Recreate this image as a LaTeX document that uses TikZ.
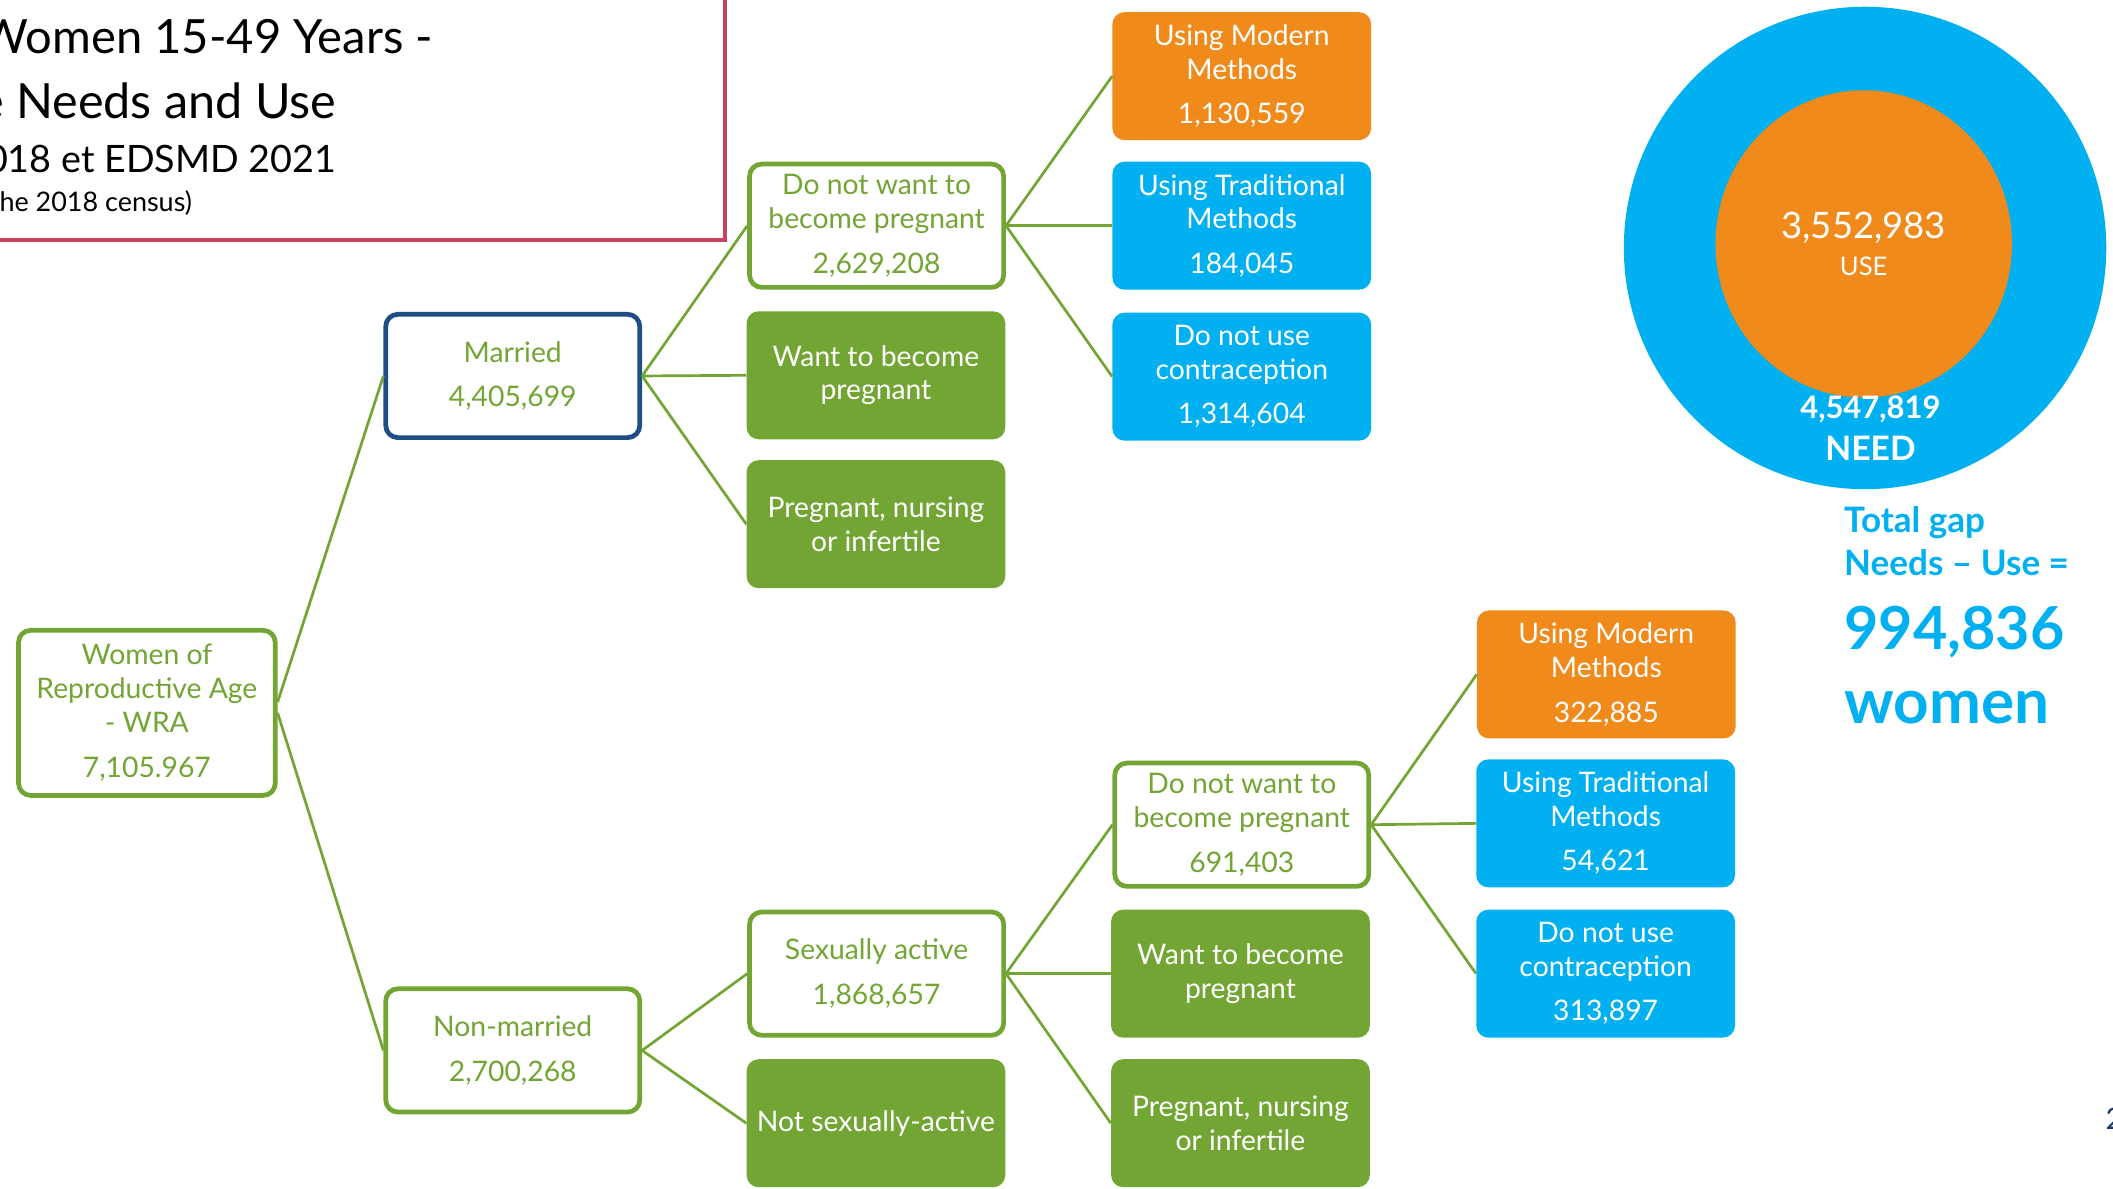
\documentclass[tikz,border=0pt]{standalone}
\usepackage{fontspec}
\setmainfont{Lato}
\usepackage{tikz}
\usetikzlibrary{positioning}

\definecolor{leaf}{HTML}{73A535}
\definecolor{sky}{HTML}{00B0F0}
\definecolor{amber}{HTML}{EF8A1B}
\definecolor{navy}{HTML}{1F4E85}
\definecolor{rosered}{HTML}{C9415C}
\definecolor{inkblue}{HTML}{1F3864}

\tikzset{
	box/.style={rounded corners=9pt, minimum width=192pt, minimum height=95pt, inner sep=0pt, align=center, font=\fontsize{21}{25}\selectfont},
	wbox/.style={box, draw=leaf, line width=3.5pt, fill=white, text=leaf, minimum width=188.5pt, minimum height=91.5pt},
	gbox/.style={box, fill=leaf, text=white},
	obox/.style={box, fill=amber, text=white},
	cbox/.style={box, fill=sky, text=white},
	link/.style={draw=leaf, line width=2pt},
}

\begin{document}
\begin{tikzpicture}[x=1pt, y=-1pt]
		\useasboundingbox (0,0) rectangle (1568,882);
		\clip (0,0) rectangle (1568,882);
		\fill[white] (0,0) rectangle (1568,882);

		% title
		\draw[rosered, line width=3pt] (-10,-10) rectangle (538,178);
		\node[anchor=base east, font=\fontsize{35}{35}\selectfont] (title1) at (325,40) {Women 15-49 Years -};
		\node[anchor=base east, font=\fontsize{36}{36}\selectfont] (title2) at (253,88) {e Needs and Use};
		\node[anchor=base east, font=\fontsize{28}{28}\selectfont] (title3) at (253,128) {018 et EDSMD 2021};
		\node[anchor=base east, font=\fontsize{20}{20}\selectfont] (title4) at (146,157) {he 2018 census)};

		% first level
		\node[wbox, minimum width=190.5pt, minimum height=122.5pt] (wra) at (109,529) {Women of\\Reproductive Age\\- WRA\\[9pt]7,105.967};
		\node[wbox, draw=navy] (married) at (380.5,279) {Married\\[8pt]4,405,699};
		\node[wbox] (nonmar) at (380.5,779.5) {Non-married\\[8pt]2,700,268};

		% married branch
		\node[wbox] (nowantA) at (650.5,167.5) {Do not want to\\become pregnant\\[8pt]2,629,208};
		\node[gbox] (wantA) at (650,278.5) {Want to become\\pregnant};
		\node[gbox] (pregA) at (650,389) {Pregnant, nursing\\or infertile};
		\node[obox] (modA) at (921.5,56.5) {Using Modern\\Methods\\[8pt]1,130,559};
		\node[cbox] (tradA) at (921.5,167.5) {Using Traditional\\Methods\\[8pt]184,045};
		\node[cbox] (nouseA) at (921.5,279.5) {Do not use\\contraception\\[8pt]1,314,604};

		% non-married branch
		\node[wbox] (active) at (650.5,722.5) {Sexually active\\[8pt]1,868,657};
		\node[gbox] (inactive) at (650,833.5) {Not sexually-active};
		\node[wbox] (nowantB) at (921.5,612) {Do not want to\\become pregnant\\[8pt]691,403};
		\node[gbox] (wantB) at (920.5,722.5) {Want to become\\pregnant};
		\node[gbox] (pregB) at (920.5,833.5) {Pregnant, nursing\\or infertile};
		\node[obox] (modB) at (1192,500.5) {Using Modern\\Methods\\[8pt]322,885};
		\node[cbox] (tradB) at (1191.5,611) {Using Traditional\\Methods\\[8pt]54,621};
		\node[cbox] (nouseB) at (1191.5,722.5) {Do not use\\contraception\\[8pt]313,897};

		% links
		\draw[link] ([yshift=8pt]wra.east) -- (married.west);
		\draw[link] (wra.east) -- (nonmar.west);
		\foreach \t in {nowantA, wantA, pregA} \draw[link] (married.east) -- (\t.west);
		\foreach \t in {modA, tradA, nouseA} \draw[link] (nowantA.east) -- (\t.west);
		\foreach \t in {active, inactive} \draw[link] (nonmar.east) -- (\t.west);
		\foreach \t in {nowantB, wantB, pregB} \draw[link] (active.east) -- (\t.west);
		\foreach \t in {modB, tradB, nouseB} \draw[link] (nowantB.east) -- (\t.west);

		% need and use
		\fill[sky] (1384,184) circle (179);
		\fill[amber] (1383,181) ellipse [x radius=110, y radius=114];
		\node[text=white, font=\fontsize{27}{27}\selectfont] (usenum) at (1383,169) {3,552,983};
		\node[text=white, font=\fontsize{19}{19}\selectfont] (uselbl) at (1383,198) {USE};
		\node[text=white, font=\bfseries\fontsize{23}{23}\selectfont] (neednum) at (1388,304) {4,547,819};
		\node[text=white, font=\bfseries\fontsize{25}{25}\selectfont] (needlbl) at (1388,333) {NEED};

		% gap
		\node[anchor=base west, text=sky, font=\bfseries\fontsize{26}{26}\selectfont] (gap1) at (1365,395) {Total gap};
		\node[anchor=base west, text=sky, font=\bfseries\fontsize{26}{26}\selectfont] (gap2) at (1365,427) {Needs – Use =};
		\node[anchor=base west, text=sky, font=\bfseries\fontsize{44}{44}\selectfont] (gap3) at (1365,482) {994,836};
		\node[anchor=base west, text=sky, font=\bfseries\fontsize{46}{46}\selectfont] (gap4) at (1365,537) {women};

		\node[anchor=base west, text=inkblue, font=\fontsize{22}{22}\selectfont] (pagenum) at (1559,838) {2};
	\end{tikzpicture}
\end{document}
